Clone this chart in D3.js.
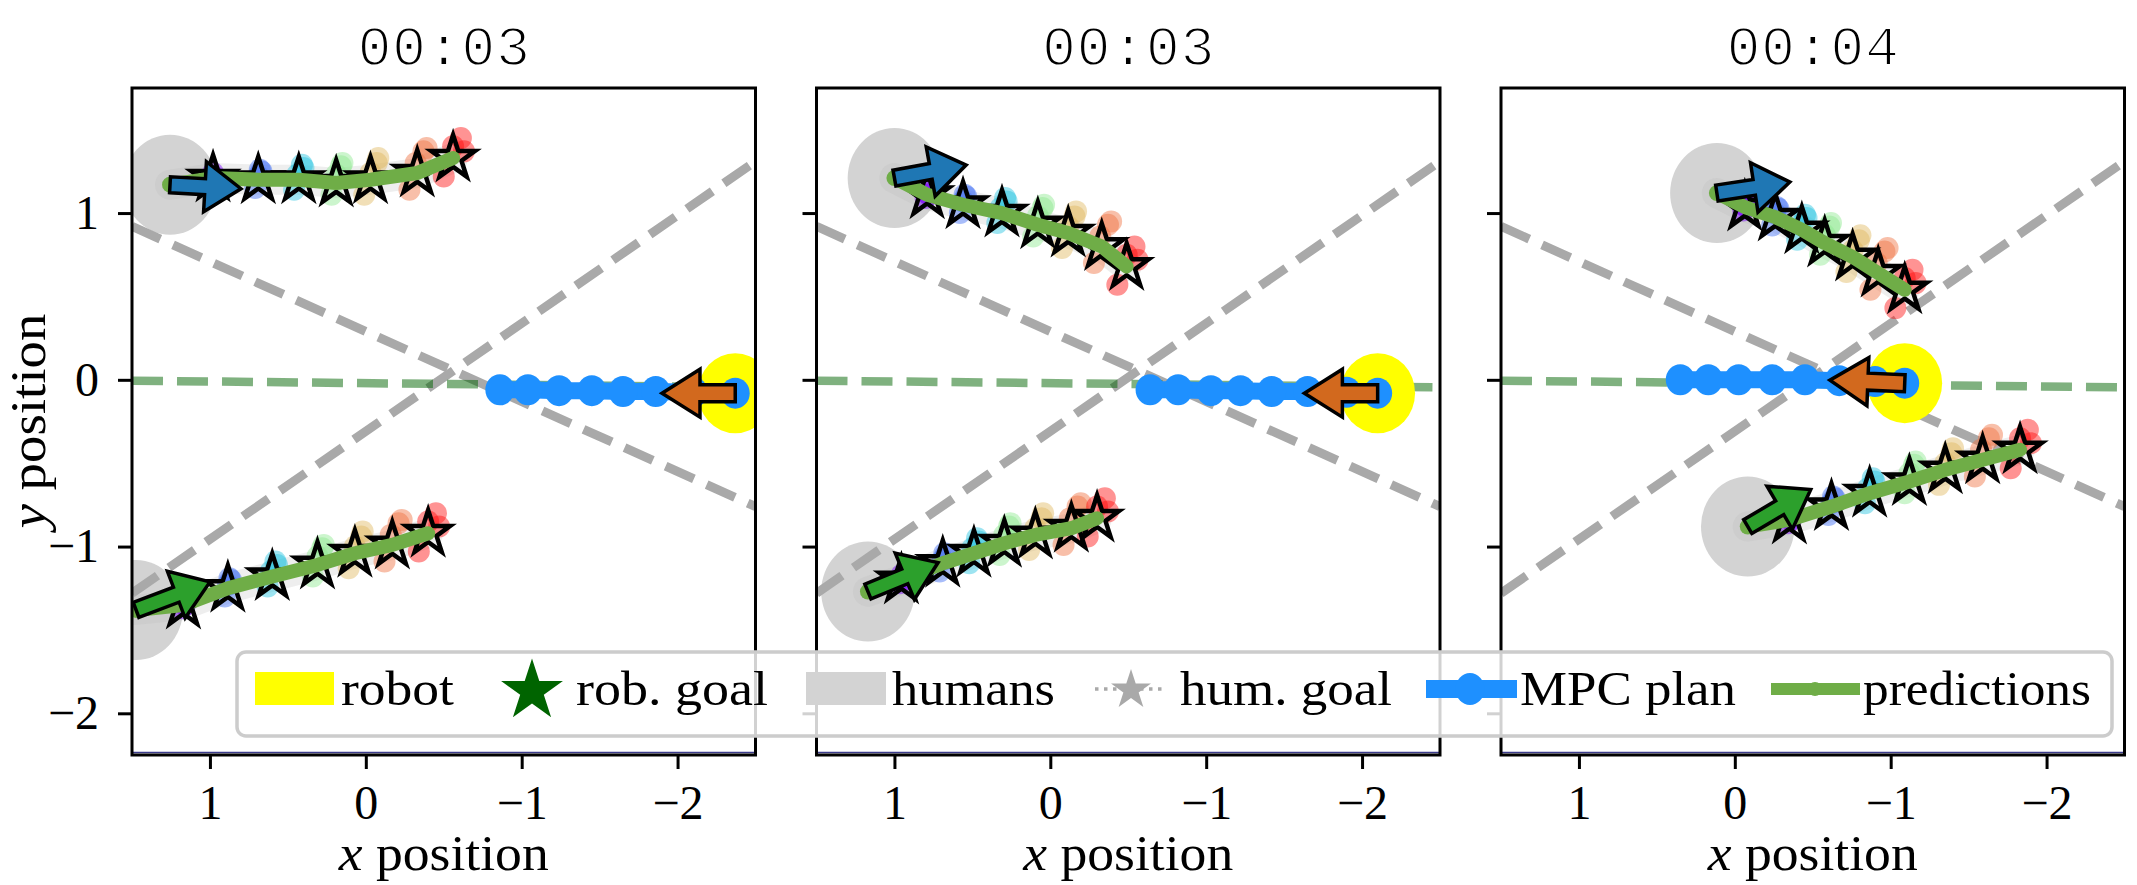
<!DOCTYPE html>
<html><head><meta charset="utf-8">
<script src="https://cdn.jsdelivr.net/npm/d3@7"></script>
<style>body{margin:0;background:#fff;} svg{display:block}</style>
</head><body><svg id="c" width="2137" height="885"></svg>
<script>
// ---------------- data ----------------
const titles = ["00:03", "00:03", "00:04"];
const xTicks = [1, 0, -1, -2];
const yTicks = [1, 0, -1, -2];
const xDomain = [1.5, -2.5];
const yDomain = [-2.25, 1.75];
const corridorA = [[1.5, 0.92], [-2.5, -0.76]];
const corridorB = [[1.5, -1.28], [-2.5, 1.31]];
const goalLine = [[1.5, -0.005], [-2.5, -0.045]];

const robotX = [-2.37, -2.1, -1.09];
const robotY = [-0.08, -0.08, -0.02];
const robotHeadX = [0.47, 0.47, 0.48];
const robotHeadY = [0.0, 0.0, 0.018];
const robotRadius = 0.24;
const humanRadius = 0.3;

const mpcX = [
  [-2.37, -2.1, -1.86, -1.65, -1.45, -1.24, -1.04, -0.86],
  [-2.1, -1.9, -1.65, -1.42, -1.22, -1.03, -0.82, -0.64],
  [-1.09, -0.9, -0.67, -0.45, -0.24, -0.025, 0.17, 0.35]
];
const mpcY = [
  [-0.08, -0.075, -0.07, -0.07, -0.065, -0.065, -0.06, -0.06],
  [-0.08, -0.075, -0.07, -0.07, -0.065, -0.065, -0.06, -0.06],
  [-0.02, -0.01, -0.005, 0, 0, 0, 0, 0]
];

const humanX = [[1.256, 1.474], [1.0, 1.17], [0.115, -0.083]];
const humanY = [[1.17, -1.38], [1.21, -1.27], [1.12, -0.88]];
const humanHeadX = [[-0.455, -0.474], [-0.46, -0.45], [-0.468, -0.404]];
const humanHeadY = [[-0.024, 0.168], [0.078, 0.174], [0.066, 0.222]];

const predX = [
  [[0.98, 0.69, 0.43, 0.19, -0.03, -0.33, -0.56], [1.17, 0.885, 0.60, 0.31, 0.07, -0.17, -0.40]],
  [[0.79, 0.56, 0.31, 0.08, -0.115, -0.33, -0.49], [0.955, 0.69, 0.49, 0.295, 0.096, -0.135, -0.30]],
  [[-0.064, -0.26, -0.43, -0.577, -0.756, -0.92, -1.09], [-0.35, -0.62, -0.865, -1.12, -1.35, -1.59, -1.83]]
];
const predY = [
  [[1.21, 1.2, 1.2, 1.18, 1.2, 1.24, 1.33], [-1.35, -1.25, -1.18, -1.11, -1.04, -0.99, -0.92]],
  [[1.11, 1.05, 1.0, 0.93, 0.88, 0.80, 0.68], [-1.2, -1.10, -1.04, -0.98, -0.93, -0.89, -0.83]],
  [[1.036, 0.976, 0.90, 0.82, 0.737, 0.64, 0.54], [-0.84, -0.76, -0.68, -0.61, -0.54, -0.48, -0.42]]
];
// fixed sample offsets (data units) around each predicted step
const sampleDX = [
  [0.0, 0.01, -0.01, 0.0], [-0.02, 0.02, 0.0, -0.01], [-0.03, 0.03, 0.01, -0.02], [-0.03, 0.03, 0.0, -0.04],
  [-0.04, 0.04, 0.0, -0.05], [-0.04, 0.05, 0.01, -0.06], [-0.05, 0.06, 0.0, -0.07]
];
const sampleDY = [
  [0.03, -0.02, 0.0, 0.01], [0.05, -0.05, 0.02, 0.06], [0.07, -0.06, 0.03, 0.09], [0.1, -0.07, 0.05, 0.12],
  [0.1, -0.09, 0.04, 0.13], [0.13, -0.1, 0.06, 0.15], [0.12, -0.11, 0.07, 0.04]
];
const stepColors = ["#7b00ff", "#3f6cf5", "#25c4e0", "#8ee890", "#e0b860", "#f07040", "#ff1010"];
const humanArrowColors = ["#1f77b4", "#2ca02c"];

const legendLabels = ["robot", "rob. goal", "humans", "hum. goal", "MPC plan", "predictions"];

// ---------------- layout ----------------
const svg = d3.select("#c");
const lefts = [132, 816.5, 1501];
const W = 623.5, topY = 88, bottomY = 755;
const serif = "'Liberation Serif', 'DejaVu Serif', serif";

function starPath(R) {
  const r = R * 0.381966;
  const pts = [];
  for (let i = 0; i < 10; i++) {
    const a = -Math.PI / 2 + i * Math.PI / 5;
    const rr = i % 2 === 0 ? R : r;
    pts.push([rr * Math.cos(a), rr * Math.sin(a)]);
  }
  return "M" + pts.map(p => p[0].toFixed(2) + "," + p[1].toFixed(2)).join("L") + "Z";
}
function arrowPoly(x0, y0, x1, y1, sw, hw, hl) {
  const dx = x1 - x0, dy = y1 - y0, L = Math.hypot(dx, dy);
  const ux = dx / L, uy = dy / L, nx = -uy, ny = ux;
  const b = L - hl;
  const loc = [[0, sw / 2], [b, sw / 2], [b, hw / 2], [L, 0], [b, -hw / 2], [b, -sw / 2], [0, -sw / 2]];
  return loc.map(([s, t]) => [x0 + ux * s + nx * t, y0 + uy * s + ny * t]);
}

titles.forEach((title, i) => {
  const x = d3.scaleLinear().domain(xDomain).range([lefts[i], lefts[i] + W]);
  const y = d3.scaleLinear().domain(yDomain).range([bottomY, topY]);
  const g = svg.append("g");
  const clipId = "clip" + i;
  svg.append("clipPath").attr("id", clipId).append("rect")
    .attr("x", lefts[i]).attr("y", topY).attr("width", W).attr("height", bottomY - topY);
  const pg = g.append("g").attr("clip-path", `url(#${clipId})`);

  // humans
  humanX[i].forEach((hx, h) => {
    pg.append("ellipse").attr("cx", x(hx)).attr("cy", y(humanY[i][h]))
      .attr("rx", Math.abs(x(hx + humanRadius) - x(hx))).attr("ry", Math.abs(y(humanY[i][h] + humanRadius) - y(humanY[i][h])))
      .attr("fill", "#d3d3d3");
  });
  // corridor dashed lines
  const line = d3.line().x(d => x(d[0])).y(d => y(d[1]));
  [corridorA, corridorB].forEach(c => {
    pg.append("path").attr("d", line(c)).attr("stroke", "#a9a9a9").attr("stroke-width", 9)
      .attr("stroke-dasharray", "31,14").attr("fill", "none");
  });
  pg.append("path").attr("d", line(goalLine)).attr("stroke", "#006400").attr("stroke-opacity", 0.5)
    .attr("stroke-width", 8.5).attr("stroke-dasharray", "31,14").attr("fill", "none");
  // robot
  pg.append("ellipse").attr("cx", x(robotX[i])).attr("cy", y(robotY[i]))
    .attr("rx", Math.abs(x(robotX[i] + robotRadius) - x(robotX[i])))
    .attr("ry", Math.abs(y(robotY[i] + robotRadius) - y(robotY[i])))
    .attr("fill", "#ffff00");
  // MPC plan
  const plan = mpcX[i].map((v, k) => [v, mpcY[i][k]]);
  pg.append("path").attr("d", line(plan)).attr("stroke", "#1e90ff").attr("stroke-width", 17).attr("fill", "none");
  pg.selectAll(null).data(plan).enter().append("ellipse")
    .attr("cx", d => x(d[0])).attr("cy", d => y(d[1])).attr("rx", 14.5).attr("ry", 15.5).attr("fill", "#1e90ff");

  // predictions
  humanX[i].forEach((hx, h) => {
    const pts = [[hx, humanY[i][h]]].concat(predX[i][h].map((v, k) => [v, predY[i][h][k]]));
    pg.append("path").attr("d", line(pts)).attr("stroke", "#bbbbbb").attr("stroke-opacity", 0.25)
      .attr("stroke-width", 30).attr("fill", "none").attr("stroke-linecap", "round");
    predX[i][h].forEach((px, k) => {
      sampleDX[k].forEach((ox, s) => {
        pg.append("circle").attr("cx", x(px + ox)).attr("cy", y(predY[i][h][k] + sampleDY[k][s]))
          .attr("r", 11).attr("fill", stepColors[k]).attr("fill-opacity", 0.45);
      });
    });
    predX[i][h].forEach((px, k) => {
      pg.append("path").attr("d", starPath(23))
        .attr("transform", `translate(${x(px)},${y(predY[i][h][k])})`)
        .attr("fill", "none").attr("stroke", "#000").attr("stroke-width", 4.5).attr("stroke-linejoin", "miter");
    });
    pg.append("path").attr("d", line(pts)).attr("stroke", "#6fad47").attr("stroke-width", 14)
      .attr("fill", "none").attr("stroke-linecap", "round").attr("stroke-linejoin", "round");
    pg.append("circle").attr("cx", x(hx)).attr("cy", y(humanY[i][h])).attr("r", 8).attr("fill", "#6fad47");
  });
  // human heading arrows
  humanX[i].forEach((hx, h) => {
    const hy = humanY[i][h];
    const poly = arrowPoly(x(hx), y(hy), x(hx + humanHeadX[i][h]), y(hy + humanHeadY[i][h]), 16, 50, 36);
    pg.append("polygon").attr("points", poly.map(p => p.join(",")).join(" "))
      .attr("fill", humanArrowColors[h]).attr("stroke", "#000").attr("stroke-width", 3.5);
  });
  // robot arrow
  const rp = arrowPoly(x(robotX[i]), y(robotY[i]), x(robotX[i] + robotHeadX[i]), y(robotY[i] + robotHeadY[i]), 17, 48, 38);
  pg.append("polygon").attr("points", rp.map(p => p.join(",")).join(" "))
    .attr("fill", "#d2691e").attr("stroke", "#000").attr("stroke-width", 3.5);

  // thin navy line at bottom edge
  pg.append("line").attr("x1", lefts[i]).attr("x2", lefts[i] + W).attr("y1", bottomY - 2.5).attr("y2", bottomY - 2.5)
    .attr("stroke", "#3c3c8c").attr("stroke-width", 1.5);

  // axes
  const xa = g.append("g").attr("transform", `translate(0,${bottomY})`)
    .call(d3.axisBottom(x).tickValues(xTicks).tickSize(14).tickPadding(16).tickFormat(d3.format("d")));
  const ya = g.append("g").attr("transform", `translate(${lefts[i]},0)`)
    .call(d3.axisLeft(y).tickValues(yTicks).tickSize(14).tickPadding(19).tickFormat(d3.format("d")));
  [xa, ya].forEach(a => {
    a.select(".domain").remove();
    a.selectAll(".tick line").attr("stroke", "#000").attr("stroke-width", 3);
    a.selectAll(".tick text").attr("font-family", serif).attr("font-size", 48).attr("fill", "#000");
  });
  if (i > 0) ya.selectAll(".tick text").remove();
  g.append("rect").attr("x", lefts[i]).attr("y", topY).attr("width", W).attr("height", bottomY - topY)
    .attr("fill", "none").attr("stroke", "#000").attr("stroke-width", 3);

  // title (thin monospace look)
  g.append("text").attr("x", lefts[i] + W / 2).attr("y", 65).attr("text-anchor", "middle")
    .attr("font-family", "'Liberation Mono', 'DejaVu Sans Mono', monospace").attr("font-size", 56)
    .attr("textLength", 172).attr("lengthAdjust", "spacing")
    .attr("fill", "#000").attr("stroke", "#fff").attr("stroke-width", 1.8)
    .text(title);
  // x label
  const xl = g.append("text").attr("x", lefts[i] + W / 2).attr("y", 870).attr("text-anchor", "middle")
    .attr("font-family", serif).attr("font-size", 50).attr("textLength", 210).attr("lengthAdjust", "spacingAndGlyphs");
  xl.append("tspan").attr("font-style", "italic").text("x");
  xl.append("tspan").text(" position");
  if (i === 0) {
    const yl = g.append("text").attr("transform", `translate(45,421) rotate(-90)`).attr("text-anchor", "middle")
      .attr("font-family", serif).attr("font-size", 50).attr("textLength", 215).attr("lengthAdjust", "spacingAndGlyphs");
    yl.append("tspan").attr("font-style", "italic").text("y");
    yl.append("tspan").text(" position");
  }
});

// ---------------- legend ----------------
const lg = svg.append("g");
lg.append("rect").attr("x", 237).attr("y", 652).attr("width", 1875).attr("height", 84).attr("rx", 9)
  .attr("fill", "#fff").attr("fill-opacity", 0.82).attr("stroke", "#cccccc").attr("stroke-width", 3.5);
const cy = 689, base = 705;
lg.append("rect").attr("x", 255).attr("y", 672).attr("width", 79).attr("height", 33).attr("fill", "#ffff00");
lg.append("path").attr("d", starPath(32.5)).attr("transform", `translate(532,${cy + 2})`).attr("fill", "#006400");
lg.append("rect").attr("x", 806).attr("y", 672).attr("width", 80).attr("height", 33).attr("fill", "#d3d3d3");
lg.append("line").attr("x1", 1095).attr("x2", 1167).attr("y1", cy).attr("y2", cy)
  .attr("stroke", "#a9a9a9").attr("stroke-width", 3.5).attr("stroke-dasharray", "3.5,5.5");
lg.append("path").attr("d", starPath(21)).attr("transform", `translate(1131,${cy + 1})`).attr("fill", "#a9a9a9");
lg.append("line").attr("x1", 1426).attr("x2", 1517).attr("y1", cy).attr("y2", cy).attr("stroke", "#1e90ff").attr("stroke-width", 18);
lg.append("ellipse").attr("cx", 1470).attr("cy", cy).attr("rx", 14.5).attr("ry", 16).attr("fill", "#1e90ff");
lg.append("line").attr("x1", 1771).attr("x2", 1860).attr("y1", cy).attr("y2", cy).attr("stroke", "#6fad47").attr("stroke-width", 12);
lg.append("circle").attr("cx", 1815).attr("cy", cy).attr("r", 7).attr("fill", "#6fad47");

const textX = [341, 576, 892, 1180, 1520, 1863];
const textW = [113, 192, 163, 212, 216, 228];
legendLabels.forEach((t, k) => {
  lg.append("text").attr("x", textX[k]).attr("y", base).attr("font-family", serif).attr("font-size", 48)
    .attr("textLength", textW[k]).attr("lengthAdjust", "spacingAndGlyphs").text(t);
});
</script></body></html>
